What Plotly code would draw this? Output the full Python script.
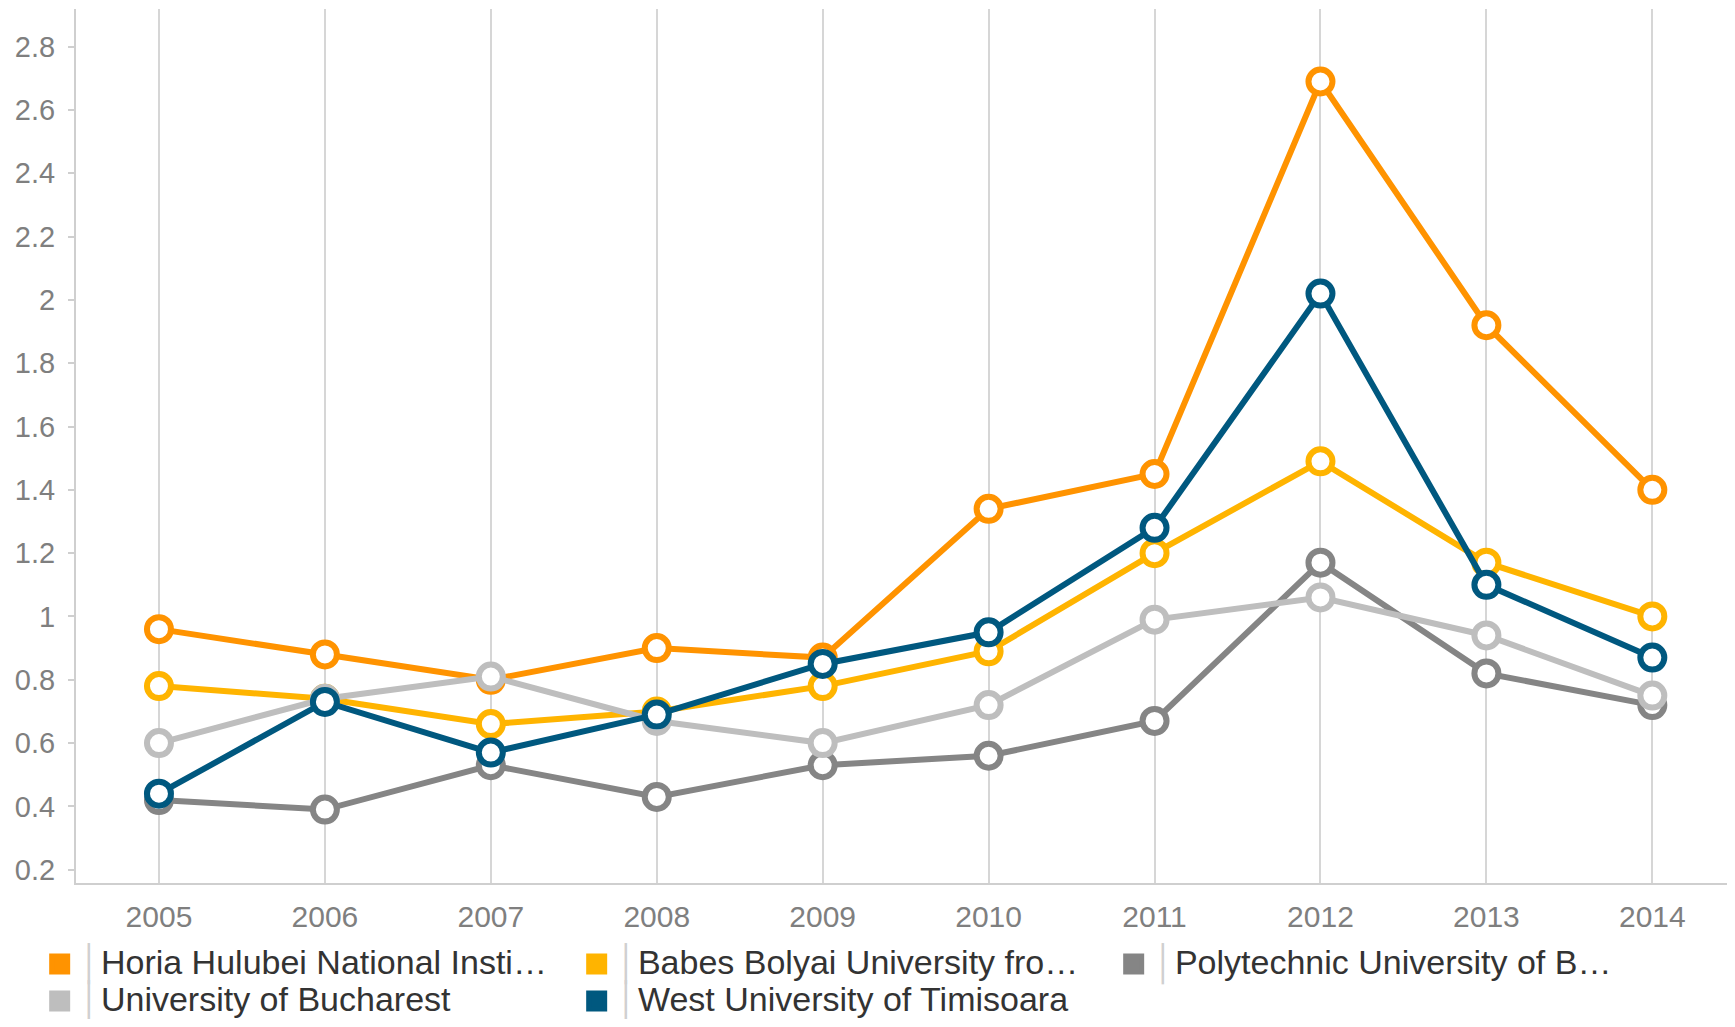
import plotly.graph_objects as go

years = [2005, 2006, 2007, 2008, 2009, 2010, 2011, 2012, 2013, 2014]

horia = [0.96, 0.88, 0.80, 0.90, 0.87, 1.34, 1.45, 2.69, 1.92, 1.40]
babes = [0.78, 0.74, 0.66, 0.70, 0.78, 0.89, 1.20, 1.49, 1.17, 1.00]
polytechnic = [0.42, 0.39, 0.53, 0.43, 0.53, 0.56, 0.67, 1.17, 0.82, 0.72]
bucharest = [0.60, 0.74, 0.81, 0.67, 0.60, 0.72, 0.99, 1.06, 0.94, 0.75]
west = [0.44, 0.73, 0.57, 0.69, 0.85, 0.95, 1.28, 2.02, 1.10, 0.87]

legend_names = [
    "Horia Hulubei National Insti…",
    "Babes Bolyai University fro…",
    "Polytechnic University of B…",
    "University of Bucharest",
    "West University of Timisoara",
]
colors = ["#FF9300", "#FFB400", "#858585", "#BEBEBE", "#00587F"]
series = [horia, babes, polytechnic, bucharest, west]

# drawing order (bottom to top)
draw_order = [2, 1, 0, 3, 4]

fig = go.Figure()
for i in draw_order:
    fig.add_trace(go.Scatter(
        x=years, y=series[i], mode="lines+markers",
        line=dict(color=colors[i], width=6),
        marker=dict(size=24, color="white", line=dict(color=colors[i], width=6)),
        showlegend=False, hoverinfo="skip",
    ))

for i, name in enumerate(legend_names):
    fig.add_trace(go.Scatter(
        x=[None], y=[None], mode="markers",
        marker=dict(symbol="square", size=16, color=colors[i],
                    line=dict(color=colors[i], width=5)),
        name=("<span style='font-size:34px'><span style='color:#d0d0d0'>│</span>"
              + name + "</span>"),
        showlegend=True,
    ))

fig.update_layout(
    width=1719, height=1011,
    margin=dict(l=68, r=0, t=1, b=136, autoexpand=False),
    plot_bgcolor="white", paper_bgcolor="white",
    font=dict(family="Liberation Sans, Arial, sans-serif"),
    xaxis=dict(
        range=[2004.5, 2014.45], tickmode="array", tickvals=years,
        ticktext=[str(y) for y in years],
        showgrid=True, gridcolor="#d6d6d6", gridwidth=2,
        showline=True, linecolor="#cfcfcf", linewidth=2,
        ticks="", zeroline=False,
        tickfont=dict(size=30, color="#7f7f7f"),
        ticklabelstandoff=6,
    ),
    yaxis=dict(
        range=[0.158, 2.919], tick0=0.2, dtick=0.2,
        showgrid=False, zeroline=False,
        showline=True, linecolor="#cfcfcf", linewidth=2,
        ticks="outside", ticklen=6, tickcolor="#cfcfcf", tickwidth=2,
        tickfont=dict(size=29, color="#7f7f7f"),
        ticklabelstandoff=7,
    ),
    legend=dict(
        orientation="h", x=-0.022, xanchor="left", y=-0.066, yanchor="top",
        font=dict(size=26, color="#333333"),
        entrywidth=492, entrywidthmode="pixels",
        bgcolor="rgba(0,0,0,0)", tracegroupgap=0,
    ),
)

fig.write_html("out.html")
